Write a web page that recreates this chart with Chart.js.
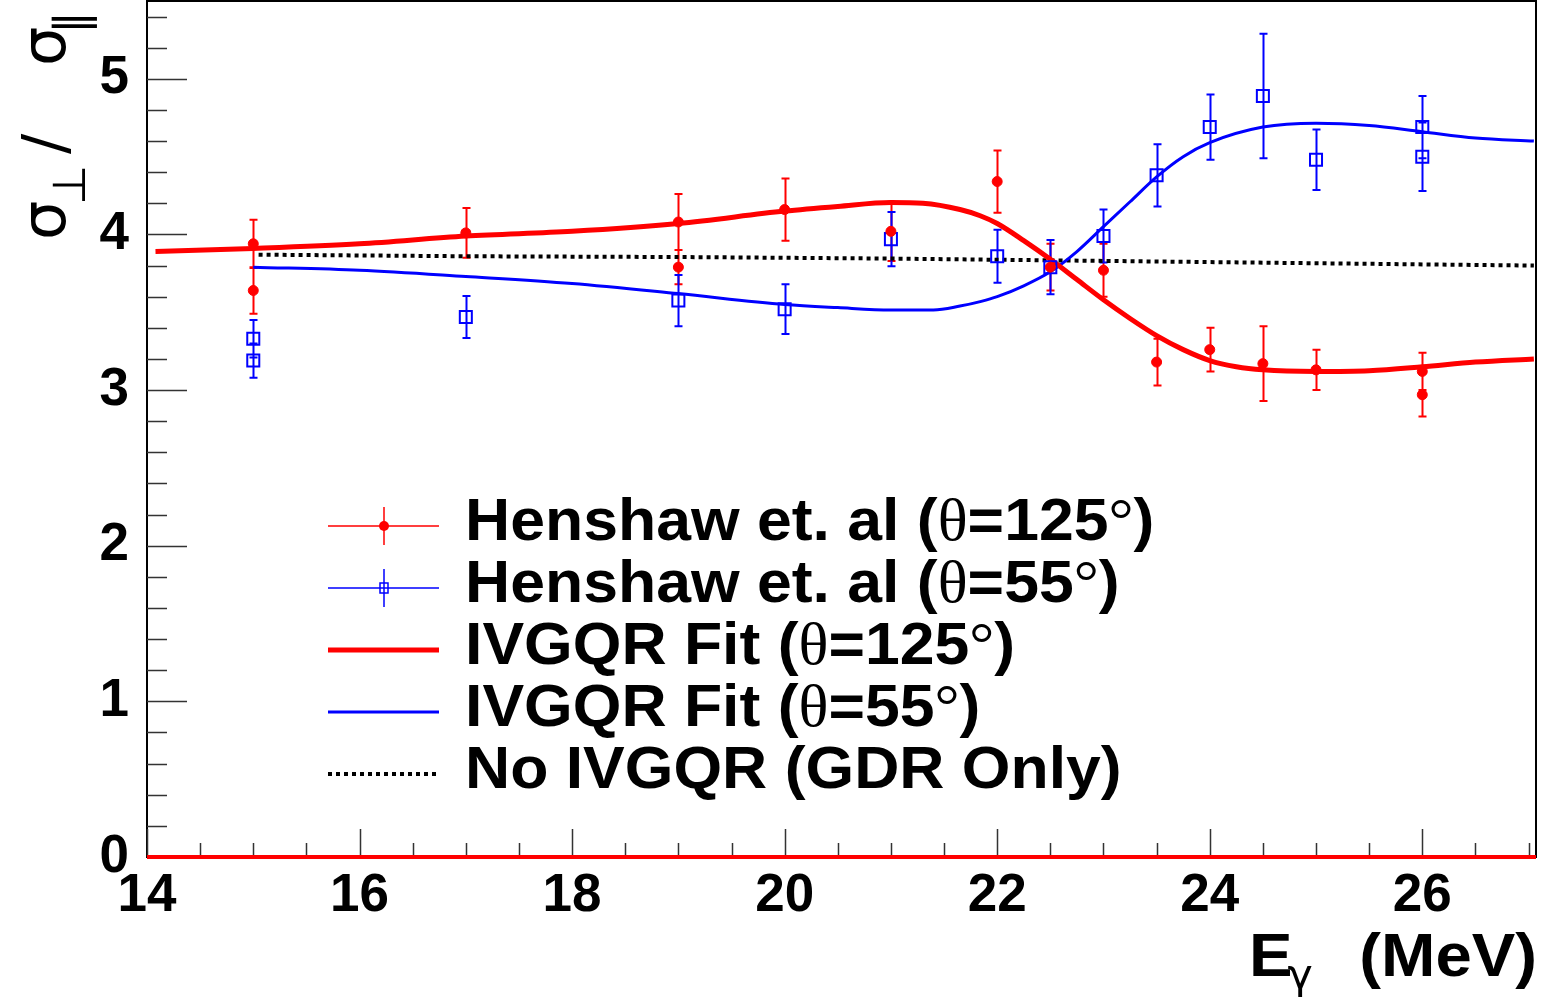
<!DOCTYPE html>
<html>
<head>
<meta charset="utf-8">
<title>sigma perp / sigma par</title>
<script src="https://cdn.jsdelivr.net/npm/chart.js@4.4.1/dist/chart.umd.min.js"></script>
<style>
    html, body { margin: 0; padding: 0; background: #fff; }
    #wrap { width: 1552px; height: 997px; }
</style>
</head>
<body>
<div id="wrap"><canvas id="ratio-chart" width="1552" height="997"></canvas></div>
<script>
// Henshaw et al. data points, theta = 125 deg
const henshaw125X = [15, 15, 17, 19, 19, 20, 21, 22, 22.5, 23, 23.5, 24, 24.5, 25, 26, 26];
const henshaw125Y = [3.94, 3.64, 4.01, 4.08, 3.79, 4.16, 4.02, 4.34, 3.79, 3.77, 3.18, 3.26, 3.17, 3.13, 3.12, 2.97];
const henshaw125Err = [0.155, 0.15, 0.16, 0.18, 0.11, 0.2, 0.19, 0.2, 0.15, 0.17, 0.15, 0.14, 0.24, 0.13, 0.12, 0.14];

// Henshaw et al. data points, theta = 55 deg
const henshaw55X = [15, 15, 17, 19, 20, 21, 22, 22.5, 23, 23.5, 24, 24.5, 25, 26, 26];
const henshaw55Y = [3.33, 3.19, 3.47, 3.575, 3.52, 3.97, 3.86, 3.79, 3.99, 4.38, 4.69, 4.89, 4.48, 4.69, 4.50];
const henshaw55Err = [0.12, 0.11, 0.135, 0.165, 0.16, 0.175, 0.17, 0.175, 0.17, 0.2, 0.21, 0.4, 0.195, 0.2, 0.22];

// IVGQR fit curves
const fit125X = [14.08, 15, 16, 17, 18, 19, 20, 20.5, 21, 21.3, 21.65, 21.84, 22, 22.25, 22.5, 22.75, 23, 23.25, 23.5, 23.75, 24, 24.25, 24.5, 25, 25.5, 26, 26.5, 27.05];
const fit125Y = [3.89, 3.91, 3.94, 3.99, 4.02, 4.07, 4.15, 4.18, 4.205, 4.2, 4.16, 4.12, 4.07, 3.96, 3.84, 3.71, 3.58, 3.46, 3.35, 3.26, 3.19, 3.15, 3.13, 3.12, 3.125, 3.15, 3.18, 3.2];

const fit55X = [15, 16, 17, 18, 19, 20, 20.5, 21, 21.4, 21.65, 21.85, 22, 22.25, 22.5, 22.75, 23, 23.25, 23.5, 23.75, 24, 24.5, 25, 25.5, 26, 26.5, 27.05];
const fit55Y = [3.79, 3.77, 3.73, 3.685, 3.62, 3.55, 3.53, 3.515, 3.515, 3.54, 3.57, 3.6, 3.67, 3.76, 3.89, 4.05, 4.21, 4.37, 4.5, 4.59, 4.69, 4.715, 4.7, 4.66, 4.62, 4.6];

// GDR only
const gdrX = [15.05, 17, 19, 21, 23, 25, 27.05];
const gdrY = [3.87, 3.86, 3.855, 3.845, 3.83, 3.815, 3.8];

// the red line lying on the x axis
const zeroX = [14, 27.07];
const zeroY = [0, 0];

const xTicks = [14, 16, 18, 20, 22, 24, 26];
const yTicks = [0, 1, 2, 3, 4, 5];

const RED = '#ff0000';
const BLUE = '#0000ff';
const SANS = '"Liberation Sans", Arial, sans-serif';

const toPoints = (xs, ys) => xs.map((x, i) => ({ x, y: ys[i] }));

// cadre + petites graduations vers l'interieur (style ROOT)
const framePlugin = {
    id: 'frame',
    beforeDatasetsDraw(chart) {
        const { ctx, chartArea: a, scales: { x, y } } = chart;
        ctx.save();
        ctx.strokeStyle = '#000';
        ctx.lineWidth = 2;
        ctx.strokeRect(a.left, a.top, a.right - a.left, a.bottom - a.top);
        ctx.lineWidth = 1.5;
        ctx.strokeStyle = '#333';
        ctx.beginPath();
        for (let k = 0; k <= 27; k++) {
            const v = k * 0.2;
            const py = Math.round(y.getPixelForValue(v)) + 0.5;
            const len = k % 5 === 0 ? 40 : 20;
            ctx.moveTo(a.left, py);
            ctx.lineTo(a.left + len, py);
        }
        for (let k = 0; k <= 26; k++) {
            const v = 14 + k * 0.5;
            const px = Math.round(x.getPixelForValue(v)) + 0.5;
            const len = k % 4 === 0 ? 28 : 14;
            ctx.moveTo(px, a.bottom);
            ctx.lineTo(px, a.bottom - len);
        }
        ctx.stroke();
        ctx.restore();
    }
};

const errorBarPlugin = {
    id: 'errorBars',
    beforeDatasetsDraw(chart) {
        const { ctx, scales: { x, y } } = chart;
        chart.data.datasets.forEach(ds => {
            if (!ds.errors) return;
            ctx.save();
            ctx.strokeStyle = ds.borderColor;
            ctx.lineWidth = 2;
            ctx.beginPath();
            ds.data.forEach((p, j) => {
                const px = Math.round(x.getPixelForValue(p.x)) + 0.5;
                const top = y.getPixelForValue(p.y + ds.errors[j]);
                const bot = y.getPixelForValue(p.y - ds.errors[j]);
                ctx.moveTo(px, top); ctx.lineTo(px, bot);
                ctx.moveTo(px - 4, top); ctx.lineTo(px + 4, top);
                ctx.moveTo(px - 4, bot); ctx.lineTo(px + 4, bot);
            });
            ctx.stroke();
            ctx.restore();
        });
    }
};

// texte avec theta et degre en police serif, un peu etire en largeur
function drawRich(ctx, text, x, y, size, stretch) {
    const parts = text.split(/([θ°])/).filter(s => s.length);
    ctx.save();
    ctx.translate(x, y);
    ctx.scale(stretch, 1);
    let cx = 0;
    parts.forEach(part => {
        const greek = part === 'θ' || part === '°';
        ctx.font = greek ? `${size}px "Liberation Serif", serif` : `bold ${size}px ${SANS}`;
        ctx.fillText(part, cx, 0);
        cx += ctx.measureText(part).width;
    });
    ctx.restore();
}

const legendPlugin = {
    id: 'rootLegend',
    afterDraw(chart) {
        const { ctx } = chart;
        const rows = chart.data.datasets.filter(d => d.legendKind);
        ctx.save();
        ctx.fillStyle = '#000';
        ctx.textBaseline = 'alphabetic';
        rows.forEach((ds, i) => {
            const yc = 526 + i * 62;
            const x0 = 328, x1 = 439, xm = 384;
            ctx.save();
            ctx.strokeStyle = ds.borderColor;
            if (ds.legendKind === 'points') {
                ctx.lineWidth = 1.5;
                ctx.beginPath();
                ctx.moveTo(x0, yc); ctx.lineTo(x1, yc);
                ctx.moveTo(xm, yc - 19); ctx.lineTo(xm, yc + 19);
                ctx.stroke();
                if (ds.pointStyle === 'circle') {
                    ctx.fillStyle = ds.pointBackgroundColor;
                    ctx.beginPath(); ctx.arc(xm, yc, 5, 0, Math.PI * 2); ctx.fill();
                } else {
                    ctx.strokeRect(xm - 4, yc - 5, 8, 10);
                }
            } else {
                ctx.lineWidth = ds.borderWidth;
                ctx.setLineDash(ds.borderDash || []);
                ctx.beginPath();
                ctx.moveTo(x0, yc); ctx.lineTo(x1, yc);
                ctx.stroke();
            }
            ctx.restore();
            drawRich(ctx, ds.label, 465, yc + 14, 59, 1.06);
        });

        // titre de l'axe x : E_gamma (MeV)
        ctx.save();
        ctx.translate(1249, 976);
        ctx.scale(1.07, 1);
        ctx.font = `bold 61px ${SANS}`;
        ctx.textAlign = 'left';
        ctx.fillText('E', 0, 0);
        ctx.font = '40px "DejaVu Sans", sans-serif';
        ctx.fillText('γ', 36, 12);
        ctx.restore();
        ctx.save();
        ctx.translate(1537, 976);
        ctx.scale(1.07, 1);
        ctx.font = `bold 61px ${SANS}`;
        ctx.textAlign = 'right';
        ctx.fillText('(MeV)', 0, 0);
        ctx.restore();

        // titre de l'axe y : sigma_perp / sigma_par (tourne)
        ctx.save();
        ctx.translate(65, 240);
        ctx.rotate(-Math.PI / 2);
        ctx.textAlign = 'left';
        ctx.font = '62px "DejaVu Sans", sans-serif';
        ctx.fillText('σ', 0, 0);
        ctx.font = '46px "DejaVu Sans", sans-serif';
        ctx.fillText('⊥', 35, 20);
        ctx.font = '60px "DejaVu Sans", sans-serif';
        ctx.fillText('/', 86, 0);
        ctx.font = '62px "DejaVu Sans", sans-serif';
        ctx.fillText('σ', 174, 0);
        ctx.font = '46px "DejaVu Sans", sans-serif';
        ctx.fillText('∥', 206, 22);
        ctx.restore();
        ctx.restore();
    }
};

const tickFont = { family: SANS, size: 53, weight: 'bold' };

new Chart(document.getElementById('ratio-chart'), {
    type: 'scatter',
    data: {
        datasets: [
            {
                label: 'Henshaw et. al (θ=125°)',
                data: toPoints(henshaw125X, henshaw125Y),
                errors: henshaw125Err,
                legendKind: 'points',
                showLine: false,
                pointStyle: 'circle',
                pointRadius: 5,
                pointBackgroundColor: RED,
                pointBorderColor: RED,
                borderColor: RED,
                pointBorderWidth: 1
            },
            {
                label: 'Henshaw et. al (θ=55°)',
                data: toPoints(henshaw55X, henshaw55Y),
                errors: henshaw55Err,
                legendKind: 'points',
                showLine: false,
                pointStyle: 'rect',
                pointRadius: 8.5,
                pointBackgroundColor: 'rgba(0,0,0,0)',
                pointBorderColor: BLUE,
                borderColor: BLUE,
                pointBorderWidth: 2
            },
            {
                label: 'IVGQR Fit (θ=125°)',
                data: toPoints(fit125X, fit125Y),
                legendKind: 'line',
                showLine: true,
                pointRadius: 0,
                borderColor: RED,
                borderWidth: 5,
                cubicInterpolationMode: 'monotone'
            },
            {
                label: 'IVGQR Fit (θ=55°)',
                data: toPoints(fit55X, fit55Y),
                legendKind: 'line',
                showLine: true,
                pointRadius: 0,
                borderColor: BLUE,
                borderWidth: 3,
                cubicInterpolationMode: 'monotone'
            },
            {
                label: 'No IVGQR (GDR Only)',
                data: toPoints(gdrX, gdrY),
                legendKind: 'line',
                showLine: true,
                pointRadius: 0,
                borderColor: '#000',
                borderWidth: 4,
                borderDash: [4, 4]
            },
            {
                label: 'zero',
                data: toPoints(zeroX, zeroY),
                showLine: true,
                pointRadius: 0,
                borderColor: RED,
                borderWidth: 4,
                clip: false
            }
        ]
    },
    options: {
        responsive: false,
        animation: false,
        devicePixelRatio: 1,
        layout: { autoPadding: false, padding: { left: 0, right: 16, top: 1, bottom: 0 } },
        plugins: {
            legend: { display: false },
            tooltip: { enabled: false }
        },
        scales: {
            x: {
                type: 'linear',
                min: 14,
                max: 27.07,
                grid: { display: false },
                border: { display: false },
                ticks: {
                    font: tickFont,
                    color: '#000',
                    padding: 0,
                    maxRotation: 0,
                    autoSkip: false
                },
                afterBuildTicks: scale => { scale.ticks = xTicks.map(v => ({ value: v })); },
                afterFit: scale => {
                    scale.height = 140;
                    scale.paddingLeft = 0;
                    scale.paddingRight = 0;
                }
            },
            y: {
                type: 'linear',
                min: 0,
                max: 5.5,
                grid: { display: false },
                border: { display: false },
                ticks: {
                    font: tickFont,
                    color: '#000',
                    padding: 10
                },
                afterBuildTicks: scale => { scale.ticks = yTicks.map(v => ({ value: v })); },
                afterFit: scale => {
                    scale.width = 147;
                    scale.paddingTop = 0;
                    scale.paddingBottom = 0;
                }
            }
        }
    },
    plugins: [framePlugin, errorBarPlugin, legendPlugin]
});
</script>
</body>
</html>
